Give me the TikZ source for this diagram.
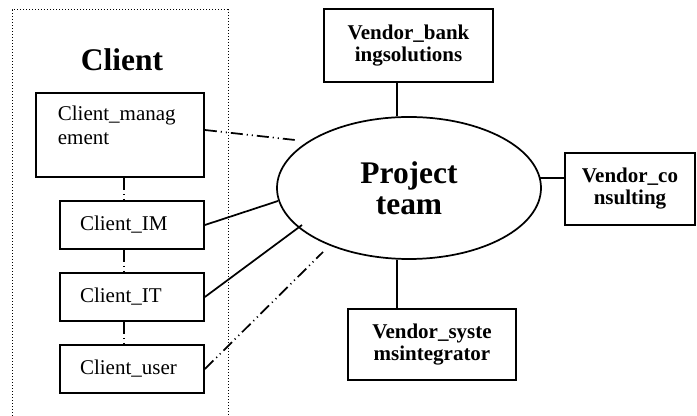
\documentclass[tikz,border=0pt]{standalone}
\usepackage{fontspec}
\setmainfont{Liberation Serif}
\usetikzlibrary{shapes.geometric,calc}
\tikzset{every picture/.style={line width=1.3pt}}
\tikzset{
  clientbox/.style={draw, rectangle, inner ysep=0pt, inner xsep=15pt, align=left,
    font=\fontsize{15.75}{18}\selectfont},
  vendorbox/.style={draw, rectangle, inner sep=0pt, align=center,
    font=\fontsize{15.75}{16.5}\selectfont\bfseries},
  dashdotdot/.style={dash pattern=on 9pt off 3pt on 0.8pt off 3pt on 0.8pt off 3pt},
  frameline/.style={dash pattern=on 0.75pt off 1.5pt, line width=0.75pt},
}

\begin{document}
\begin{tikzpicture}[x=0.75pt,y=0.75pt,yscale=-1,xscale=1]
\path[use as bounding box] (0,0) rectangle (697,416);

%Shape: Frame of the client side
\draw[frameline] (12,416) -- (12,10) -- (228,10) -- (228,416);

% Text Node
\node[font=\fontsize{23.6}{26}\selectfont\bfseries, inner sep=0pt] (clienttitle) at (122,60) {Client};

%Shape: Rectangle
\node[clientbox, minimum width=126pt, minimum height=63pt] (mgmt) at (120,135) {};
% Text Node
\node[anchor=north west, inner sep=0pt, align=left, font=\fontsize{15.75}{18}\selectfont] (mgmttext) at (57,105) {Client\_manag\\ement};
%Shape: Rectangle
\node[clientbox, minimum width=108pt, minimum height=36pt, text width=78pt] (im) at (132,225) {Client\_IM};
%Shape: Rectangle
\node[clientbox, minimum width=108pt, minimum height=36pt, text width=78pt] (it) at (132,297) {Client\_IT};
%Shape: Rectangle
\node[clientbox, minimum width=108pt, minimum height=36pt, text width=78pt] (user) at (132,369) {Client\_user};

%Shape: Ellipse
\node[draw, ellipse, inner sep=0pt, minimum width=198pt, minimum height=106.5pt, align=center,
  font=\fontsize{23.6}{23}\selectfont\bfseries] (team) at (409,188) {Project\\team};

%Shape: Rectangle
\node[vendorbox, minimum width=126.75pt, minimum height=54.75pt] (bank) at (408.5,45.5) {Vendor\_bank\\ingsolutions};
%Shape: Rectangle
\node[vendorbox, minimum width=97.5pt, minimum height=54pt] (cons) at (630,189) {Vendor\_co\\nsulting};
%Shape: Rectangle
\node[vendorbox, minimum width=126pt, minimum height=53.25pt] (sys) at (432,344.5) {Vendor\_syste\\msintegrator};

% free ends near the ellipse
\coordinate (mgmtend) at (295,140);
\coordinate (imend) at (278,201);
\coordinate (itend) at (302,225);
\coordinate (userend) at (323,252);
% points the straight connectors run through
\coordinate (mgmtout) at ($(mgmt.east)+(0,-5)$);
\coordinate (mgmtfoot) at ($(mgmt.south)+(4,0)$);
\coordinate (imfoot) at ($(im.south)+(-8,0)$);
\coordinate (ithead) at ($(it.north)+(-8,0)$);
\coordinate (itfoot) at ($(it.south)+(-8,0)$);
\coordinate (userhead) at ($(user.north)+(-8,0)$);
\coordinate (teamtop) at ($(team.north)+(-12,0)$);
\coordinate (teambottom) at ($(team.south)+(-12,0)$);
\coordinate (consin) at ($(cons.west)+(0,-11)$);
\coordinate (teamright) at ($(team.east)+(-3,0)$);

%Straight Lines
\draw[dashdotdot] (mgmtout) -- (mgmtend);
\draw (im.east) -- (imend);
\draw (it.east) -- (itend);
\draw[dashdotdot] (user.east) -- (userend);

%Straight Lines between client boxes
\draw[dashdotdot] (mgmtfoot) -- (mgmtfoot |- im.north);
\draw[dashdotdot] (imfoot) -- (ithead);
\draw[dashdotdot] (itfoot) -- (userhead);

%Straight Lines to the vendors
\draw (teamtop |- bank.south) -- (teamtop);
\draw (teambottom) -- (teambottom |- sys.north);
\draw (consin) -- (consin -| teamright);

\end{tikzpicture}
\end{document}
